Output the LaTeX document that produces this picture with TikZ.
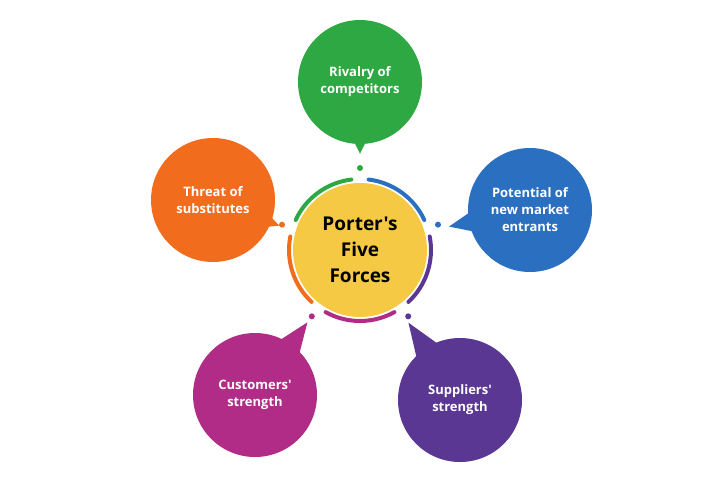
\documentclass[tikz,border=0pt]{standalone}
\usepackage{fontspec}
\setmainfont{Open Sans}[Ligatures=TeXOff]
\usetikzlibrary{calc}
\begin{document}
\begin{tikzpicture}[x=1pt,y=-1pt,
  bub/.style={circle,minimum size=124pt,inner sep=0pt,text=white,font=\bfseries\fontsize{13}{17}\selectfont,align=center},
  dot/.style={circle,inner sep=0pt,minimum size=6pt}]
\useasboundingbox (0,0) rectangle (720,482);
\definecolor{kgreen}{HTML}{2DA843}\definecolor{kblue}{HTML}{2A6FC0}\definecolor{korange}{HTML}{F26C1E}
\definecolor{kmag}{HTML}{B12C86}\definecolor{kpurp}{HTML}{5B3794}\definecolor{kyel}{HTML}{F6C945}
\coordinate (c) at (360,250);
% pointers
\foreach \p/\q/\col in {{360,82}/{360,160}/kgreen,{213,200}/{285,228}/korange,{530,210}/{442,228}/kblue,{255,395}/{312,316}/kmag,{460,400}/{404,316}/kpurp}{
  \path (\p) coordinate (P) (\q) coordinate (Q);
  \fill[\col] ($(P)!35pt!90:(Q)$) -- ($(P)!0.92!(Q)$) -- ($(P)!35pt!-90:(Q)$) -- cycle;}
\node[bub,fill=kgreen] (n1) at (360,82) {Rivalry of\\competitors};
\node[bub,fill=korange] (n2) at (213,200) {Threat of\\substitutes};
\node[bub,fill=kblue] (n3) at (530,210) {Potential of\\new market\\entrants};
\node[bub,fill=kmag] (n4) at (255,395) {Customers'\\strength};
\node[bub,fill=kpurp] (n5) at (460,400) {Suppliers'\\strength};
\node[circle,fill=kyel,minimum size=134pt,inner sep=0pt,align=center,font=\bfseries\fontsize{19}{26}\selectfont] (hub) at (c) {Porter's\\Five\\Forces};
\foreach \a/\col in {90/kgreen,162/korange,18/kblue,234/kmag,306/kpurp}
  \node[dot,fill=\col] at ($(c)+(\a:82pt)$) {};
\foreach \s/\e/\col in {97/155/kgreen,25/83/kblue,-47/11/kpurp,-119/-61/kmag,169/227/korange}
  \draw[\col,line width=4pt,line cap=round] ($(c)+(\s:71pt)$) arc[start angle=\s,end angle=\e,radius=71pt];
\end{tikzpicture}
\end{document}
